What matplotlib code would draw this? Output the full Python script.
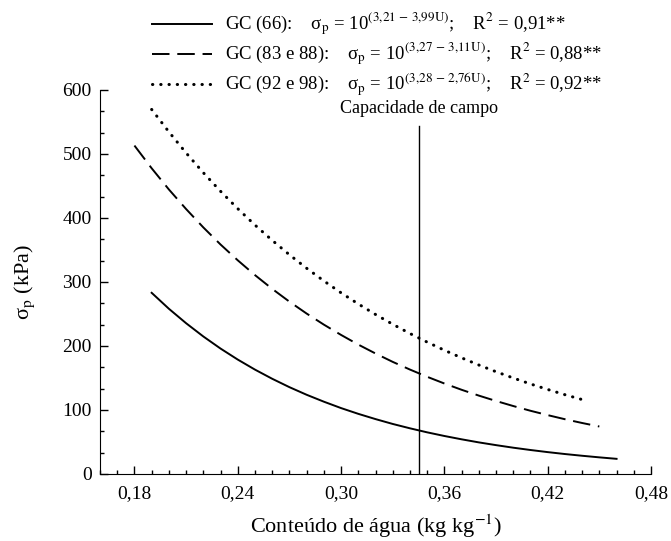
import matplotlib
matplotlib.use("Agg")
import matplotlib.pyplot as plt
from matplotlib.ticker import MultipleLocator, FuncFormatter
from matplotlib.lines import Line2D

plt.rcParams['font.family'] = ['Liberation Serif', 'DejaVu Serif']
plt.rcParams['mathtext.fontset'] = 'stix'

# Curvas (conteúdo de água x sigma_p)
u_66 = [0.19, 0.20, 0.21, 0.22, 0.23, 0.24, 0.25, 0.26, 0.27, 0.28, 0.29, 0.30, 0.31, 0.32,
        0.33, 0.34, 0.35, 0.36, 0.37, 0.38, 0.39, 0.40, 0.41, 0.42, 0.43, 0.44, 0.45, 0.46]
s_66 = [283.1, 258.2, 235.6, 214.9, 196.0, 178.8, 163.1, 148.8, 135.7, 123.8, 113.0, 103.0,
        94.0, 85.8, 78.2, 71.4, 65.1, 59.4, 54.2, 49.4, 45.1, 41.1, 37.5, 34.2, 31.2, 28.5,
        26.0, 23.7]

u_83 = [0.18, 0.19, 0.20, 0.21, 0.22, 0.23, 0.24, 0.25, 0.26, 0.27, 0.28, 0.29, 0.30, 0.31,
        0.32, 0.33, 0.34, 0.35, 0.36, 0.37, 0.38, 0.39, 0.40, 0.41, 0.42, 0.43, 0.44, 0.45]
s_83 = [513.2, 477.7, 444.6, 414.0, 385.3, 358.6, 333.9, 310.8, 289.3, 269.3, 250.7, 233.4,
        217.3, 202.2, 188.3, 175.2, 163.2, 151.9, 141.4, 131.6, 122.5, 114.1, 106.2, 98.8,
        92.0, 85.6, 79.7, 74.2]

u_92 = [0.19, 0.20, 0.21, 0.22, 0.23, 0.24, 0.25, 0.26, 0.27, 0.28, 0.29, 0.30, 0.31, 0.32,
        0.33, 0.34, 0.35, 0.36, 0.37, 0.38, 0.39, 0.40, 0.41, 0.42, 0.43, 0.44]
s_92 = [569.6, 534.6, 501.7, 470.8, 441.8, 414.6, 389.0, 365.1, 342.6, 321.5, 301.7, 283.1,
        265.7, 249.3, 234.0, 219.5, 206.1, 193.4, 181.5, 170.3, 159.8, 150.0, 140.7, 132.1,
        123.9, 116.3]

cap_campo = 0.345

rotulos = [
    r"GC (66):    σ$_\mathrm{p}$ = 10$^{(3{,}21\,-\,3{,}99\mathrm{U})}$;    R$^2$ = 0,91**",
    r"GC (83 e 88):    σ$_\mathrm{p}$ = 10$^{(3{,}27\,-\,3{,}11\mathrm{U})}$;    R$^2$ = 0,88**",
    r"GC (92 e 98):    σ$_\mathrm{p}$ = 10$^{(3{,}28\,-\,2{,}76\mathrm{U})}$;    R$^2$ = 0,92**",
]
estilos = [
    dict(lw=1.4, ls='-'),
    dict(lw=1.4, ls=(0, (9, 4))),
    dict(lw=2.2, ls=(0, (0.1, 2.6)), dash_capstyle='round'),
]

W, H = 671, 541
fig = plt.figure(figsize=(W / 100, H / 100), dpi=100)
ax = fig.add_axes([100 / W, 1 - 474 / H, 551 / W, 384 / H])

ax.plot(u_66, s_66, color='black', **estilos[0])
ax.plot(u_83, s_83, color='black', **estilos[1])
ax.plot(u_92, s_92, color='black', **estilos[2])

ax.axvline(cap_campo, ymin=0, ymax=0.905, color='black', lw=1)
ax.text(cap_campo, 571, "Capacidade de campo", ha='center', va='center', fontsize=13)

ax.set_xlim(0.16, 0.48)
ax.set_ylim(0, 600)
ax.set_xticks([0.18, 0.24, 0.30, 0.36, 0.42, 0.48])
ax.xaxis.set_minor_locator(MultipleLocator(0.01))
ax.yaxis.set_major_locator(MultipleLocator(100))
ax.yaxis.set_minor_locator(MultipleLocator(100 / 3))
ax.xaxis.set_major_formatter(FuncFormatter(lambda v, p: f"{v:.2f}".replace('.', ',')))
ax.tick_params(which='both', direction='in', labelsize=14, width=1)
ax.tick_params(which='major', length=6, pad=6)
ax.tick_params(axis='x', which='major', pad=8)
ax.tick_params(which='minor', length=3)
ax.spines['top'].set_visible(False)
ax.spines['right'].set_visible(False)

ax.set_ylabel(r"σ$_\mathrm{p}$ (kPa)", fontsize=16, labelpad=18)
fig.text((100 + 551 / 2) / W, 1 - 526 / H, r"Conteúdo de água (kg kg$^{-1}$)",
         fontsize=16, ha='center', va='center')

# legenda montada à mão
for i, (rot, est) in enumerate(zip(rotulos, estilos)):
    y = 1 - (24 + 30 * i) / H
    fig.add_artist(Line2D([152 / W, 212 / W], [y, y], color='black',
                          transform=fig.transFigure, **est))
    fig.text(225 / W, y, rot, fontsize=13.5, va='center', ha='left')

fig.savefig("out.png", dpi=100)
